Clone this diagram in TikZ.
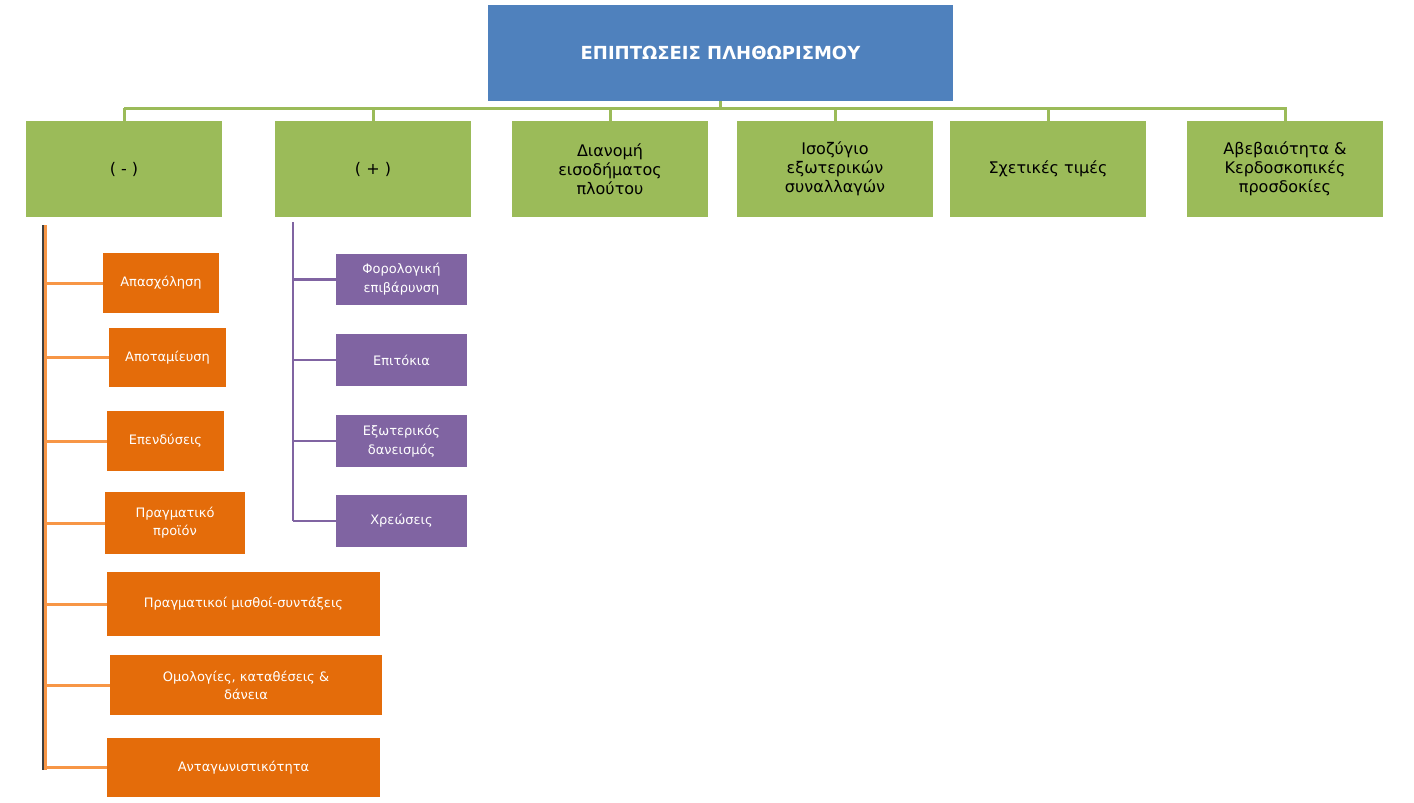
\documentclass[tikz,border=0pt]{standalone}
\usepackage{fontspec}
\setmainfont{DejaVu Sans}
\begin{document}
\begin{tikzpicture}[x=1pt,y=-1pt,
 box/.style={draw=none,inner sep=0,align=center,text=white},
 gbox/.style={draw=none,inner sep=0,align=center,fill=green1,text=black,font=\fontsize{16}{19}\selectfont},
 obox/.style={box,fill=orange1,font=\fontsize{13}{18}\selectfont},
 pbox/.style={box,fill=purple1,font=\fontsize{13}{19}\selectfont},
 gl/.style={draw=green1,line width=3pt},
 ol/.style={draw=orange2,line width=3pt},
 pl/.style={draw=purple1,line width=2.5pt}]
\definecolor{blue1}{HTML}{4F81BD}
\definecolor{green1}{HTML}{9BBB59}
\definecolor{orange1}{HTML}{E46C0A}
\definecolor{orange2}{HTML}{F79646}
\definecolor{purple1}{HTML}{8064A2}
\useasboundingbox (0,0) rectangle (1414,803);
\newcommand\rb[6]{\node[#1,minimum width=#4-#3,minimum height=#6-#5] (#2) at ({(#3+#4)/2},{(#5+#6)/2})}
\rb{box}{top}{488}{953}{5}{101}[fill=blue1,font=\bfseries\fontsize{18}{22}\selectfont]{ΕΠΙΠΤΩΣΕΙΣ ΠΛΗΘΩΡΙΣΜΟΥ};
\rb{gbox}{g1}{26}{222}{121}{217}{( - )};
\rb{gbox}{g2}{275}{471}{121}{217}{( + )};
\rb{gbox}{g3}{512}{708}{121}{217}{Διανομή\\εισοδήματος\\πλούτου};
\rb{gbox}{g4}{737}{933}{121}{217}{Ισοζύγιο\\εξωτερικών\\συναλλαγών};
\rb{gbox}{g5}{950}{1146}{121}{217}{Σχετικές τιμές};
\rb{gbox}{g6}{1187}{1383}{121}{217}{Αβεβαιότητα \&\\Κερδοσκοπικές\\προσδοκίες};
\coordinate (bl) at (124,108); \coordinate (br) at (1287,108);
\draw[gl] (bl) -- (br);
\draw[gl] (top.south) -- (top.south|-bl);
\foreach \g in {g1,g2,g3,g4,g5,g6}{\draw[gl] (\g.north|-bl) -- (\g.north);}
\rb{obox}{o1}{103}{219}{253}{313}{Απασχόληση};
\rb{obox}{o2}{109}{226}{328}{387}{Αποταμίευση};
\rb{obox}{o3}{107}{224}{411}{471}{Επενδύσεις};
\rb{obox}{o4}{105}{245}{492}{554}{Πραγματικό\\προϊόν};
\rb{obox}{o5}{107}{380}{572}{636}{Πραγματικοί μισθοί-συντάξεις};
\rb{obox}{o6}{110}{382}{655}{715}{Ομολογίες, καταθέσεις \&\\δάνεια};
\rb{obox}{o7}{107}{380}{738}{797}{Ανταγωνιστικότητα};
\coordinate (ot) at (45,225); \coordinate (ob) at (45,770);
\draw[line width=1.5pt,black!75] ([xshift=-2pt]ot) -- ([xshift=-2pt]ob);
\draw[ol] (ot) -- (ob);
\foreach \o in {o1,o2,o3,o4,o5,o6}{\draw[ol] (\o.west-|ot) -- (\o.west);}
\draw[ol] (o7.west-|ot) -- (o7.west);
\rb{pbox}{p1}{336}{467}{254}{305}{Φορολογική\\επιβάρυνση};
\rb{pbox}{p2}{336}{467}{334}{386}{Επιτόκια};
\rb{pbox}{p3}{336}{467}{415}{467}{Εξωτερικός\\δανεισμός};
\rb{pbox}{p4}{336}{467}{495}{547}{Χρεώσεις};
\coordinate (pt) at (293,222);
\draw[pl] (pt) -- (pt|-p4.west);
\foreach \p in {p1,p2,p3,p4}{\draw[pl] (\p.west-|pt) -- (\p.west);}
\end{tikzpicture}
\end{document}
